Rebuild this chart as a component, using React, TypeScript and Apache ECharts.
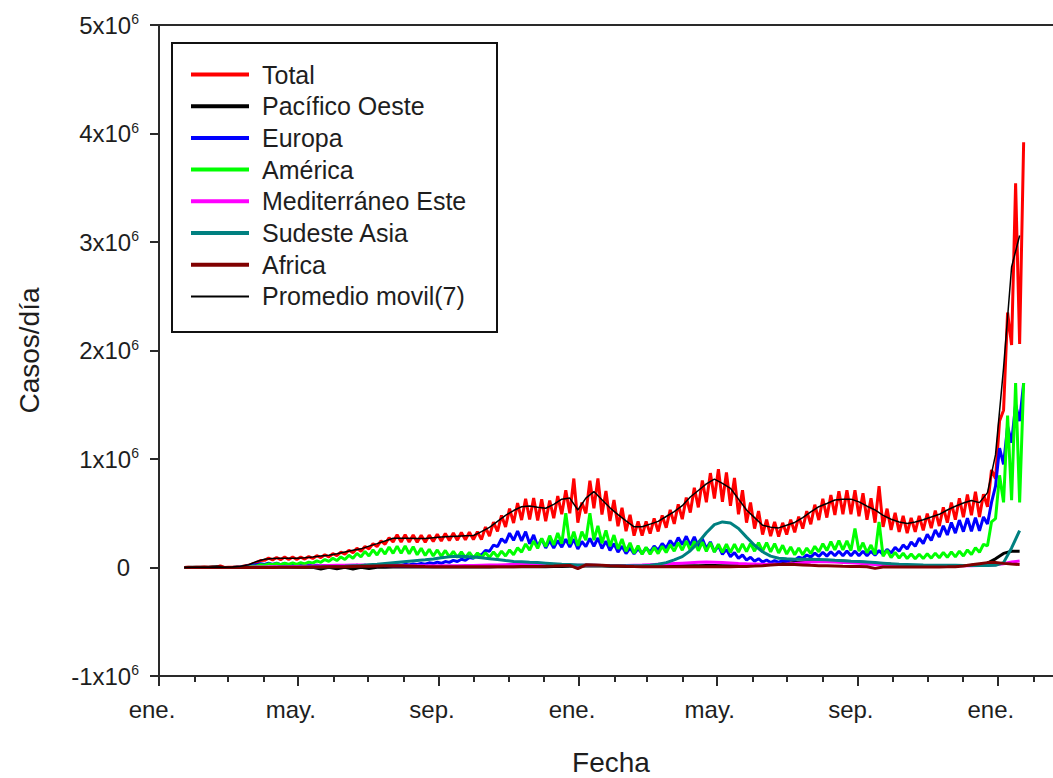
import React, { useEffect, useRef } from "react";
import * as echarts from "echarts";

// ---- DATA (values in thousands of cases/day, one entry per week) ----
const FIRST_WEEK = "2020-01-23";
const AXIS_ORIGIN = "2020-01-01";
const AXIS_END = "2022-03-11";

const seriesNames = [
  "Total",
  "Pacífico Oeste",
  "Europa",
  "América",
  "Mediterráneo Este",
  "Sudeste Asia",
  "Africa",
  "Promedio movil(7)",
];

const majorTickDates = ["2020-01-01", "2020-05-01", "2020-09-01", "2021-01-01", "2021-05-01", "2021-09-01", "2022-01-01"];
const xTickLabels = ["ene.", "may.", "sep.", "ene.", "may.", "sep.", "ene."];
const yTickValues = [-1, 0, 1, 2, 3, 4, 5]; // x10^6

const totalMA = [
  1, 2, 3, 3, 4, 2, 4, 11, 26, 55,
  76, 82, 85, 85, 85, 90, 97, 105, 113, 126,
  142, 158, 172, 197, 220, 245, 270, 270, 269, 267,
  267, 275, 280, 285, 289, 292, 295, 330, 370, 425,
  480, 525, 560, 567, 556, 546, 582, 630, 640, 530,
  640, 700, 625, 550, 488, 430, 375, 375, 400, 425,
  470, 515, 570, 650, 710, 770, 815, 775, 730, 630,
  530, 460, 390, 372, 365, 390, 415, 460, 512, 560,
  590, 622, 630, 630, 605, 565, 530, 480, 445, 420,
  405, 420, 440, 465, 490, 530, 565, 595, 618, 598,
  690, 1040, 1840, 2770, 3060,
];

const totalHigh = [
  2, 3, 4, 4, 15, 3, 6, 15, 34, 65,
  86, 92, 96, 96, 96, 101, 109, 118, 127, 141,
  159, 177, 193, 220, 246, 274, 302, 302, 300, 298,
  298, 307, 313, 318, 322, 326, 330, 373, 418, 480,
  542, 593, 633, 641, 628, 617, 658, 712, 820, 599,
  800, 820, 706, 622, 551, 486, 424, 424, 452, 480,
  531, 582, 644, 735, 802, 870, 905, 876, 825, 712,
  599, 520, 441, 420, 412, 441, 469, 520, 579, 633,
  667, 703, 712, 712, 684, 638, 750, 542, 503, 475,
  458, 475, 497, 525, 554, 599, 638, 672, 698, 676,
  900, 1350, 2350, 3540, 3920,
];

const totalLow = [
  0, 1, 2, 2, 2, 1, 3, 8, 20, 45,
  66, 70, 72, 73, 74, 78, 84, 91, 98, 110,
  123, 137, 150, 172, 192, 214, 236, 236, 235, 232,
  233, 240, 244, 248, 252, 255, 258, 257, 289, 332,
  374, 410, 437, 442, 434, 426, 454, 491, 499, 413,
  499, 546, 488, 429, 381, 335, 293, 293, 312, 332,
  367, 402, 445, 507, 554, 601, 636, 605, 569, 491,
  413, 359, 304, 290, 285, 304, 324, 359, 399, 437,
  460, 485, 491, 491, 472, 441, 413, 374, 347, 328,
  316, 328, 343, 363, 382, 413, 441, 464, 482, 466,
  560, 820, 1450, 2050, 2060,
];

const europaHigh = [
  0, 0, 0, 0, 0, 0, 3, 9, 24, 35,
  39, 39, 37, 34, 29, 23, 20, 19, 18, 18,
  19, 20, 21, 21, 22, 23, 26, 29, 33, 37,
  43, 50, 55, 66, 76, 93, 119, 158, 207, 265,
  316, 335, 330, 300, 265, 248, 248, 260, 262, 240,
  268, 272, 243, 220, 197, 180, 174, 180, 197, 220,
  248, 276, 288, 282, 265, 236, 202, 167, 138, 115,
  95, 81, 69, 64, 65, 75, 95, 115, 133, 141,
  145, 149, 151, 151, 149, 149, 156, 167, 185, 208,
  236, 270, 305, 345, 385, 415, 437, 455, 460, 466,
  600, 1100, 1300, 1500, 1700,
];

const europaLow = [
  0, 0, 0, 0, 0, 0, 1, 5, 16, 25,
  28, 28, 26, 24, 21, 17, 14, 13, 12, 12,
  13, 14, 15, 15, 16, 17, 18, 21, 23, 27,
  31, 36, 39, 47, 55, 67, 86, 115, 150, 192,
  230, 250, 245, 218, 192, 180, 180, 188, 188, 170,
  192, 196, 175, 158, 142, 129, 125, 129, 142, 158,
  180, 200, 210, 205, 192, 172, 146, 121, 100, 84,
  68, 58, 50, 46, 47, 54, 68, 84, 96, 102,
  105, 108, 109, 109, 108, 108, 113, 121, 133, 150,
  171, 196, 221, 250, 280, 300, 317, 330, 334, 338,
  400, 750, 950, 1150, 1350,
];

const americaHigh = [
  0, 0, 0, 0, 0, 0, 2, 5, 11, 26,
  34, 38, 40, 43, 44, 50, 61, 73, 85, 97,
  112, 130, 148, 162, 175, 189, 197, 198, 192, 178,
  168, 162, 157, 149, 143, 139, 134, 137, 143, 151,
  162, 181, 217, 244, 268, 293, 317, 500, 330, 330,
  500, 384, 342, 299, 262, 227, 201, 187, 185, 195,
  210, 229, 243, 242, 235, 226, 216, 214, 214, 217,
  223, 229, 229, 220, 205, 189, 179, 179, 195, 220,
  238, 248, 246, 360, 228, 207, 420, 159, 140, 132,
  124, 122, 126, 132, 138, 144, 150, 162, 183, 214,
  420, 850, 1400, 1700, 1700,
];

const americaLow = [
  0, 0, 0, 0, 0, 0, 0, 2, 5, 15,
  21, 25, 26, 28, 29, 33, 40, 48, 56, 64,
  74, 86, 98, 106, 115, 124, 130, 130, 126, 117,
  110, 106, 103, 98, 94, 91, 88, 90, 94, 99,
  106, 118, 142, 160, 176, 192, 208, 220, 216, 200,
  252, 252, 224, 196, 172, 149, 132, 122, 122, 128,
  138, 150, 159, 158, 154, 148, 142, 140, 140, 142,
  146, 150, 150, 144, 134, 124, 118, 118, 128, 144,
  156, 162, 162, 156, 150, 136, 120, 104, 92, 86,
  82, 80, 82, 86, 90, 94, 98, 106, 120, 140,
  200, 450, 600, 620, 600,
];

const pacificoOeste = [
  1, 3, 3, 3, 6, 1, 1, 1, 1, 2,
  3, 3, 2, 2, 1, 1, 1, -15, 1, -12,
  2, -15, 2, -10, 3, 3, 4, 5, 5, 4,
  4, 4, 4, 4, 4, 5, 5, 5, 5, 6,
  6, 6, 7, 8, 8, 8, 9, 10, 11, 12,
  14, 15, 14, 12, 11, 10, 10, 10, 11, 12,
  13, 14, 15, 16, 17, 18, 18, 17, 16, 16,
  17, 20, 25, 30, 35, 40, 45, 50, 55, 60,
  62, 62, 60, 55, 50, 45, 40, 35, 30, 25,
  20, 18, 18, 17, 17, 17, 18, 18, 20, 25,
  40, 80, 130, 150, 150,
];

const mediterraneoEste = [
  0, 0, 0, 0, 0, 0, 1, 2, 3, 4,
  5, 6, 7, 8, 10, 12, 14, 16, 18, 20,
  21, 22, 22, 21, 20, 18, 17, 16, 15, 15,
  15, 15, 16, 16, 17, 18, 18, 20, 22, 24,
  26, 28, 29, 30, 30, 28, 25, 24, 22, 21,
  20, 20, 19, 18, 18, 19, 21, 23, 26, 29,
  32, 36, 40, 44, 48, 50, 48, 45, 42, 38,
  35, 33, 31, 30, 30, 33, 38, 44, 50, 52,
  52, 50, 47, 43, 38, 33, 28, 24, 21, 19,
  17, 16, 15, 15, 15, 15, 16, 17, 17, 18,
  20, 25, 35, 50, 60,
];

const sudesteAsia = [
  0, 0, 0, 0, 0, 0, 0, 0, 1, 1,
  1, 1, 2, 2, 3, 4, 5, 6, 8, 10,
  12, 15, 18, 25, 30, 37, 44, 51, 58, 65,
  71, 79, 90, 98, 104, 102, 96, 89, 81, 74,
  64, 56, 52, 48, 45, 40, 35, 30, 27, 24,
  22, 20, 18, 17, 16, 16, 16, 17, 20, 30,
  45, 70, 100, 155, 230, 320, 395, 420, 410, 360,
  280, 205, 145, 105, 85, 80, 76, 75, 75, 74,
  72, 66, 62, 58, 55, 50, 45, 40, 35, 31,
  28, 25, 22, 21, 20, 20, 20, 19, 19, 18,
  18, 20, 45, 180, 340,
];

const africa = [
  0, 0, 0, 0, 0, 0, 0, 0, 1, 1,
  1, 1, 2, 2, 3, 3, 4, 5, 6, 7,
  8, 10, 11, 12, 14, 15, 16, 16, 14, 11,
  9, 8, 7, 6, 6, 6, 6, 7, 7, 7,
  8, 8, 9, 9, 10, 11, 13, 16, 19, -10,
  25, 24, 21, 17, 14, 11, 9, 8, 8, 8,
  8, 7, 7, 7, 7, 7, 7, 8, 8, 9,
  10, 13, 17, 22, 27, 30, 28, 24, 20, 17,
  15, 13, 11, 10, 9, 7, -8, 5, 5, 5,
  4, 4, 4, 4, 5, 6, 8, 14, 25, 35,
  45, 45, 38, 32, 28,
];

// ---- helpers ----
const DAY = 86400000;
const dayOf = (s: string) => (Date.parse(s) - Date.parse(AXIS_ORIGIN)) / DAY;
const d0 = dayOf(FIRST_WEEK);

const weekly = (vals: number[]) => vals.map((v, i) => [d0 + 7 * i, v * 1000]);
const zigzag = (low: number[], high: number[]) =>
  low.flatMap((l, i) => [
    [d0 + 7 * i, l * 1000],
    [d0 + 7 * i + 3.5, high[i] * 1000],
  ]);

const monthStarts: number[] = [];
for (let y = 2020; y <= 2022; y++) {
  for (let m = 0; m < 12; m++) {
    const d = (Date.UTC(y, m, 1) - Date.parse(AXIS_ORIGIN)) / DAY;
    if (d <= dayOf(AXIS_END)) monthStarts.push(d);
  }
}
const majorTicks = majorTickDates.map(dayOf);

const FONT = "'Liberation Sans', Arial, sans-serif";
const AXIS_COLOR = "#2a2a2a";
const TEXT_COLOR = "#1e1e1e";

const colors = ["#ff0000", "#000000", "#0000ff", "#00ff00", "#ff00ff", "#008080", "#800000", "#000000"];

export default function App() {
  const ref = useRef<HTMLDivElement>(null);

  useEffect(() => {
    if (!ref.current) return;
    const chart = echarts.init(ref.current, null, { renderer: "svg" });

    const dataSets = [
      zigzag(totalLow, totalHigh),
      weekly(pacificoOeste),
      zigzag(europaLow, europaHigh),
      zigzag(americaLow, americaHigh),
      weekly(mediterraneoEste),
      weekly(sudesteAsia),
      weekly(africa),
      weekly(totalMA),
    ];

    const last = seriesNames.length - 1;

    const option: any = {
      animation: false,
      backgroundColor: "#ffffff",
      grid: {
        left: 159,
        top: 25,
        width: 918,
        height: 651,
        show: true,
        borderColor: AXIS_COLOR,
        borderWidth: 2,
        backgroundColor: "transparent",
        containLabel: false,
        outerBoundsMode: "none",
      },
      xAxis: [
        {
          type: "value",
          min: 0,
          max: dayOf(AXIS_END),
          position: "bottom",
          axisLine: { show: true, onZero: false, lineStyle: { color: AXIS_COLOR, width: 2 } },
          axisTick: { show: true, length: 6, customValues: monthStarts, lineStyle: { color: AXIS_COLOR, width: 2 } },
          axisLabel: { show: false },
          splitLine: { show: false },
        },
        {
          type: "value",
          min: 0,
          max: dayOf(AXIS_END),
          position: "bottom",
          name: "Fecha",
          nameLocation: "middle",
          nameGap: 72,
          nameTextStyle: { fontFamily: FONT, fontSize: 28, lineHeight: 28, color: TEXT_COLOR, padding: [0, 14, 0, 0] },
          axisLine: { show: true, onZero: false, lineStyle: { color: AXIS_COLOR, width: 2 } },
          axisTick: { show: true, length: 10, customValues: majorTicks, lineStyle: { color: AXIS_COLOR, width: 2 } },
          axisLabel: {
            show: true,
            customValues: majorTicks,
            margin: 21,
            fontFamily: FONT,
            fontSize: 24,
            color: TEXT_COLOR,
            padding: [0, 14, 0, 0],
            formatter: (v: number) => {
              const i = majorTicks.findIndex((t) => Math.abs(t - v) < 0.5);
              return i >= 0 ? xTickLabels[i] : "";
            },
          },
          splitLine: { show: false },
        },
      ],
      yAxis: {
        type: "value",
        min: yTickValues[0] * 1e6,
        max: yTickValues[yTickValues.length - 1] * 1e6,
        interval: 1e6,
        name: "Casos/día",
        nameLocation: "middle",
        nameGap: 116,
        nameRotate: 90,
        nameTextStyle: { fontFamily: FONT, fontSize: 28, color: TEXT_COLOR },
        axisLine: { show: true, onZero: false, lineStyle: { color: AXIS_COLOR, width: 2 } },
        axisTick: { show: true, length: 9, lineStyle: { color: AXIS_COLOR, width: 2 } },
        splitLine: { show: false },
        axisLabel: {
          margin: 20,
          color: TEXT_COLOR,
          fontFamily: FONT,
          formatter: (v: number) => {
            const m = Math.round(v / 1e6);
            if (m === 0) return "{n|0}{pad|}";
            return `{n|${m}x10}{s|6}`;
          },
          rich: {
            n: { fontFamily: FONT, fontSize: 24, color: TEXT_COLOR, lineHeight: 26 },
            s: { fontFamily: FONT, fontSize: 14, color: TEXT_COLOR, verticalAlign: "top", lineHeight: 14 },
            pad: { width: 9, fontSize: 14 },
          },
        },
      },
      legend: {
        orient: "vertical",
        left: 191,
        top: 62,
        padding: 0,
        itemWidth: 58,
        itemHeight: 4,
        itemGap: 6.7,
        icon: "rect",
        itemStyle: { borderWidth: 0 },
        textStyle: { fontFamily: FONT, fontSize: 25, color: TEXT_COLOR, lineHeight: 24, padding: [0, 0, 0, 8] },
        data: seriesNames.map((n, i) => ({
          name: n,
          icon: i === last ? "path://M0,0 h58 v2 h-58 Z" : "rect",
          itemStyle: { color: colors[i], borderWidth: 0 },
        })),
      },
      graphic: [
        {
          type: "rect",
          z: 10,
          shape: { x: 172, y: 43, width: 325, height: 289 },
          style: { fill: "none", stroke: "#111111", lineWidth: 2 },
        },
      ],
      series: seriesNames.map((n, i) => ({
        name: n,
        type: "line",
        xAxisIndex: 0,
        data: dataSets[i],
        symbol: "none",
        showSymbol: false,
        color: colors[i],
        lineStyle: { color: colors[i], width: i === last ? 1.5 : 3 },
        emphasis: { disabled: true },
        silent: true,
      })),
    };

    chart.setOption(option);
    return () => chart.dispose();
  }, []);

  return (
    <div
      ref={ref}
      style={{ position: "absolute", left: 0, top: 0, width: 1053, height: 778, background: "#fff" }}
    />
  );
}
